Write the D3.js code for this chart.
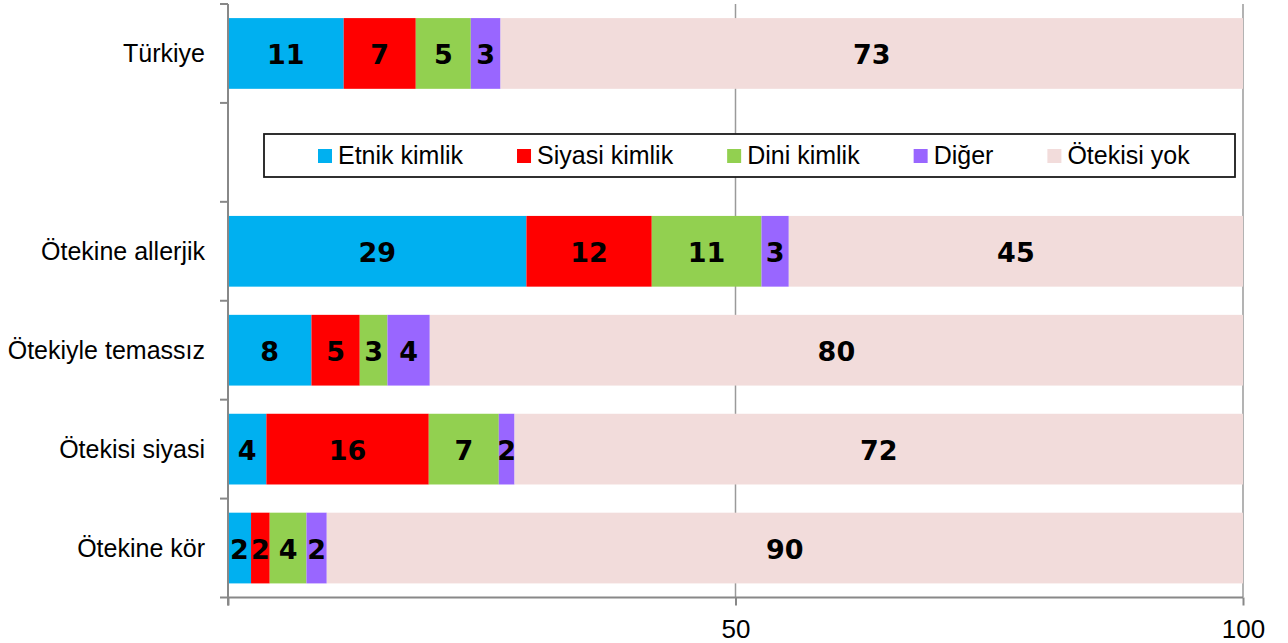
<!DOCTYPE html>
<html>
<head>
<meta charset="utf-8">
<script src="https://cdn.jsdelivr.net/npm/d3@7"></script>
<style>
  html, body { margin: 0; padding: 0; background: #fff; }
  svg { display: block; }
</style>
</head>
<body>
<svg id="chart" width="1288" height="643"></svg>
<script>
// Row labels, top to bottom; the empty slot holds the legend
const categories = ["Türkiye", "", "Ötekine allerjik", "Ötekiyle temassız", "Ötekisi siyasi", "Ötekine kör"];
const rows = ["Türkiye", "Ötekine allerjik", "Ötekiyle temassız", "Ötekisi siyasi", "Ötekine kör"];

// Series (percent shares per row)
const seriesNames = ["Etnik kimlik", "Siyasi kimlik", "Dini kimlik", "Diğer", "Ötekisi yok"];
const etnik   = [11.40, 29.40, 8.22, 3.78, 2.27];
const siyasi  = [7.10, 12.35, 4.76, 16.00, 1.84];
const dini    = [5.42, 10.81, 2.73, 6.90, 3.62];
const diger   = [2.93, 2.69, 4.17, 1.55, 2.00];
const yok     = [73.15, 44.75, 80.12, 71.77, 90.27];

const xTicks = [0, 50, 100];
const colors = ["#00B0F0", "#FF0000", "#92D050", "#9966FF", "#F2DCDB"];

const table = rows.map((r, i) => ({
  cat: r,
  "Etnik kimlik": etnik[i],
  "Siyasi kimlik": siyasi[i],
  "Dini kimlik": dini[i],
  "Diğer": diger[i],
  "Ötekisi yok": yok[i]
}));

const svg = d3.select("#chart");
const plotLeft = 228, plotRight = 1243, plotTop = 4, plotBottom = 597.5;

const x = d3.scaleLinear().domain([0, 100]).range([plotLeft, plotRight]);
const y = d3.scaleBand().domain(categories).range([plotTop, plotBottom])
  .paddingInner(0.285).paddingOuter(0.1425);
const color = d3.scaleOrdinal().domain(seriesNames).range(colors);

const layers = d3.stack().keys(seriesNames)(table);

// vertical gridlines
svg.append("g").selectAll("line")
  .data(xTicks.filter(d => d > 0))
  .join("line")
  .attr("x1", d => x(d)).attr("x2", d => x(d))
  .attr("y1", plotTop).attr("y2", plotBottom)
  .attr("stroke", "#9a9a9a").attr("stroke-width", 1.5);

// bars
const layerG = svg.append("g").selectAll("g")
  .data(layers)
  .join("g")
  .attr("fill", d => color(d.key));

layerG.selectAll("rect")
  .data(d => d)
  .join("rect")
  .attr("x", d => x(d[0]))
  .attr("width", d => x(d[1]) - x(d[0]))
  .attr("y", d => y(d.data.cat))
  .attr("height", y.bandwidth());

// value labels
const fmt = d3.format(".0f");
layerG.selectAll("text")
  .data(d => d)
  .join("text")
  .attr("x", d => (x(d[0]) + x(d[1])) / 2)
  .attr("y", d => y(d.data.cat) + y.bandwidth() / 2 + 11)
  .attr("text-anchor", "middle")
  .attr("fill", "#000")
  .style("font-family", "'DejaVu Sans', sans-serif")
  .style("font-weight", "bold")
  .style("font-size", "27px")
  .text(d => fmt(d[1] - d[0]));

// left axis: line, slot-boundary ticks and row labels
const axisColor = "#888";
svg.append("line")
  .attr("x1", plotLeft).attr("x2", plotLeft).attr("y1", plotTop).attr("y2", plotBottom + 8)
  .attr("stroke", axisColor).attr("stroke-width", 2);
svg.append("g").selectAll("line")
  .data(d3.range(categories.length + 1))
  .join("line")
  .attr("x1", plotLeft - 8).attr("x2", plotLeft)
  .attr("y1", i => plotTop + i * y.step()).attr("y2", i => plotTop + i * y.step())
  .attr("stroke", axisColor).attr("stroke-width", 2);

const yAxis = svg.append("g")
  .attr("transform", `translate(${plotLeft},0)`)
  .call(d3.axisLeft(y).tickSize(0).tickPadding(23));
yAxis.select(".domain").remove();
yAxis.selectAll("text")
  .attr("dy", null)
  .attr("y", 8.5)
  .attr("fill", "#000")
  .style("font-family", "'Liberation Sans', Arial, sans-serif")
  .style("font-size", "25px");

// bottom axis
const xAxis = svg.append("g")
  .attr("transform", `translate(0,${plotBottom})`)
  .call(d3.axisBottom(x).tickValues(xTicks).tickSize(8).tickPadding(14)
    .tickFormat(d => d === 0 ? "" : d));
xAxis.select(".domain").attr("stroke", axisColor).attr("stroke-width", 2)
  .attr("d", `M${plotLeft},0H${plotRight}`);
xAxis.selectAll(".tick line").attr("stroke", axisColor).attr("stroke-width", 2);
xAxis.selectAll("text")
  .attr("fill", "#000")
  .style("font-family", "'Liberation Sans', Arial, sans-serif")
  .style("font-size", "26px");

// legend inside the empty slot
const legend = svg.append("g");
const lgTop = 134, lgH = 43, lgLeft = 264, lgRight = 1235;
legend.append("rect")
  .attr("x", lgLeft).attr("y", lgTop)
  .attr("width", lgRight - lgLeft).attr("height", lgH)
  .attr("fill", "#fff").attr("stroke", "#1a1a1a").attr("stroke-width", 1.8);

let cx = 318;
seriesNames.forEach((name) => {
  const item = legend.append("g");
  item.append("rect")
    .attr("x", cx).attr("y", 149).attr("width", 14).attr("height", 14)
    .attr("fill", color(name));
  const t = item.append("text")
    .attr("x", cx + 20).attr("y", 164)
    .attr("fill", "#000")
    .style("font-family", "'Liberation Sans', Arial, sans-serif")
    .style("font-size", "25px")
    .text(name);
  cx += 20 + t.node().getComputedTextLength() + 54;
});
</script>
</body>
</html>
